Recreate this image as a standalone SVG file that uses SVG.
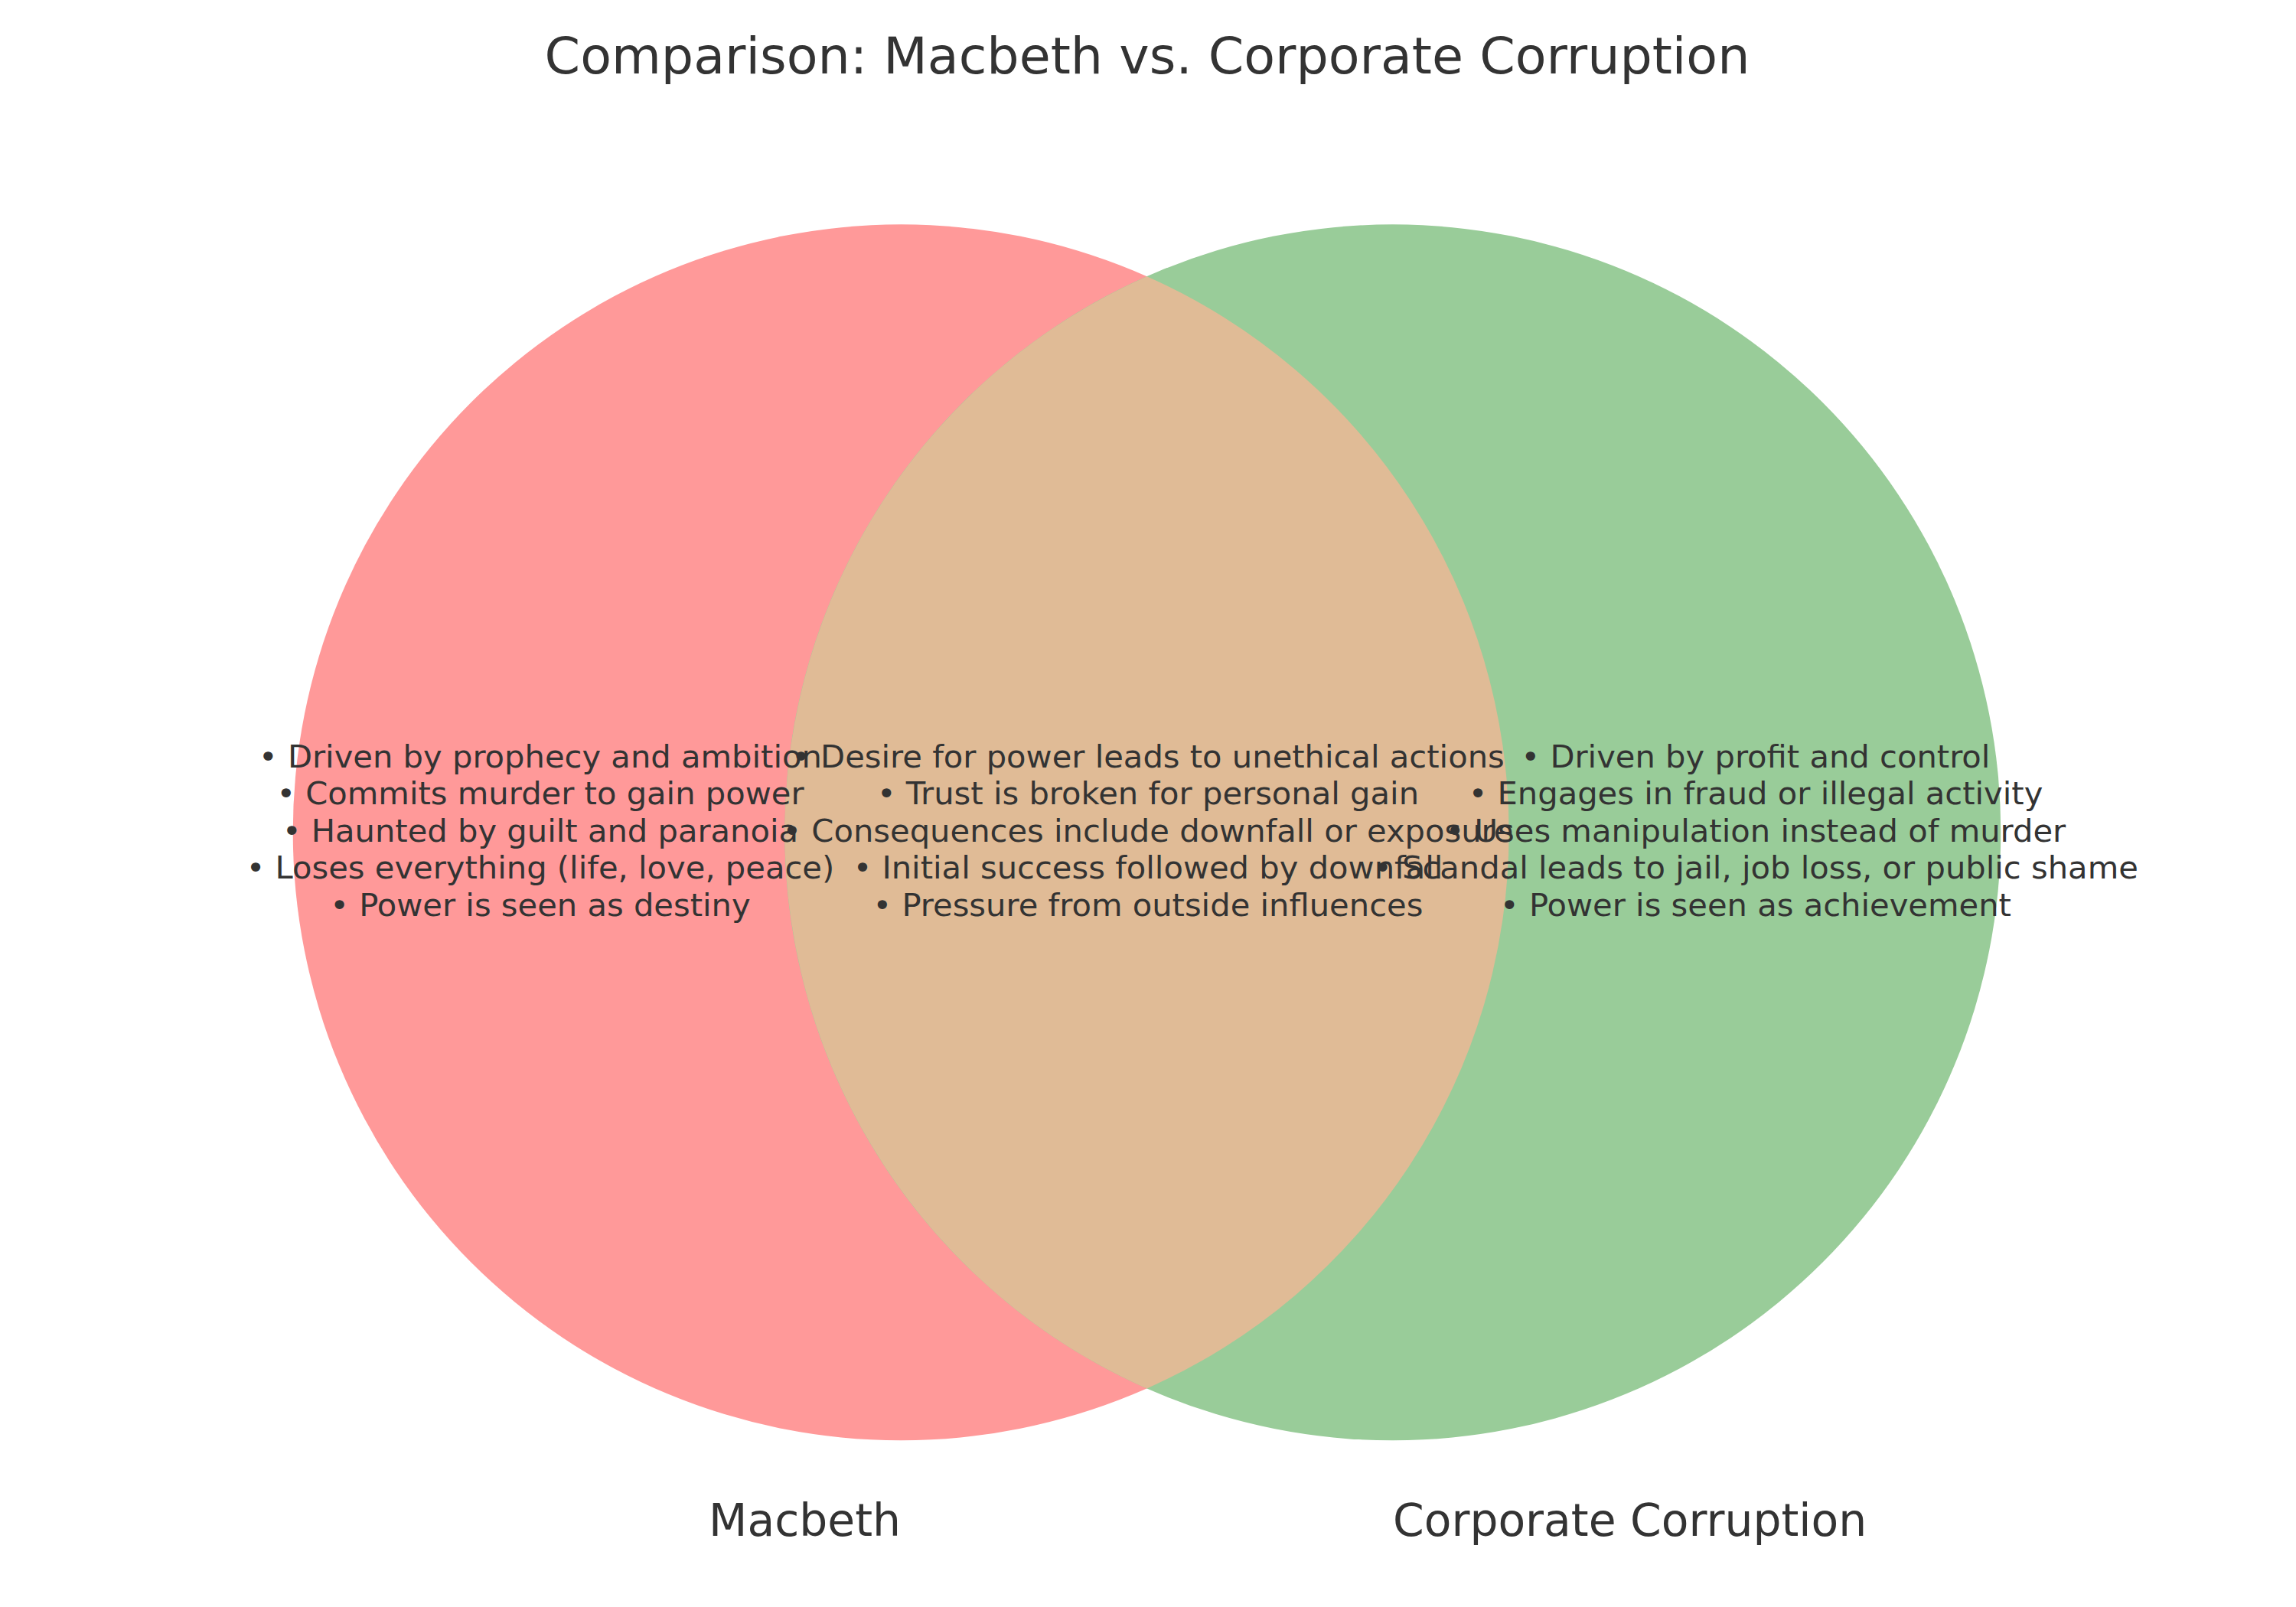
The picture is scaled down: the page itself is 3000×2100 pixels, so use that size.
<svg xmlns="http://www.w3.org/2000/svg" width="3000" height="2100" viewBox="0 0 3000 2100">
<style>
text { font-family: "DejaVu Sans", "Liberation Sans", sans-serif; fill: #333333; }
.title { font-size: 66.67px; text-anchor: middle; }
.set { font-size: 58.33px; }
.body { font-size: 41.67px; text-anchor: middle; }
</style>
<rect x="0" y="0" width="3000" height="2100" fill="#ffffff"/>
<text class="title" x="1499" y="96">Comparison: Macbeth vs. Corporate Corruption</text>
<g id="macbeth">
<circle cx="1177.2" cy="1087.8" r="794.5" fill="#ff9999"/>
</g>
<g id="corporate">
<circle cx="1819.8" cy="1087.8" r="794.5" fill="#99cc99"/>
</g>
<g id="overlap">
<path d="M1498.5 361.2 A794.5 794.5 0 0 1 1498.5 1814.4 A794.5 794.5 0 0 1 1498.5 361.2 Z" fill="#e0bb96"/>
</g>
<g id="connectors"></g>
<g id="macbeth-text">
<text class="body" x="706" y="1002.7">• Driven by prophecy and ambition</text>
<text class="body" x="706" y="1051.2">• Commits murder to gain power</text>
<text class="body" x="706" y="1099.7">• Haunted by guilt and paranoia</text>
<text class="body" x="706" y="1148.2">• Loses everything (life, love, peace)</text>
<text class="body" x="706" y="1196.7">• Power is seen as destiny</text>
</g>
<g id="overlap-text">
<text class="body" x="1500" y="1002.7">• Desire for power leads to unethical actions</text>
<text class="body" x="1500" y="1051.2">• Trust is broken for personal gain</text>
<text class="body" x="1500" y="1099.7">• Consequences include downfall or exposure</text>
<text class="body" x="1500" y="1148.2">• Initial success followed by downfall</text>
<text class="body" x="1500" y="1196.7">• Pressure from outside influences</text>
</g>
<g id="corporate-text">
<text class="body" x="2294" y="1002.7">• Driven by profit and control</text>
<text class="body" x="2294" y="1051.2">• Engages in fraud or illegal activity</text>
<text class="body" x="2294" y="1099.7">• Uses manipulation instead of murder</text>
<text class="body" x="2294" y="1148.2">• Scandal leads to jail, job loss, or public shame</text>
<text class="body" x="2294" y="1196.7">• Power is seen as achievement</text>
</g>
<g id="labels">
<text class="set" x="1177" y="2007" text-anchor="end">Macbeth</text>
<text class="set" x="1820" y="2007" text-anchor="start">Corporate Corruption</text>
</g>
</svg>
